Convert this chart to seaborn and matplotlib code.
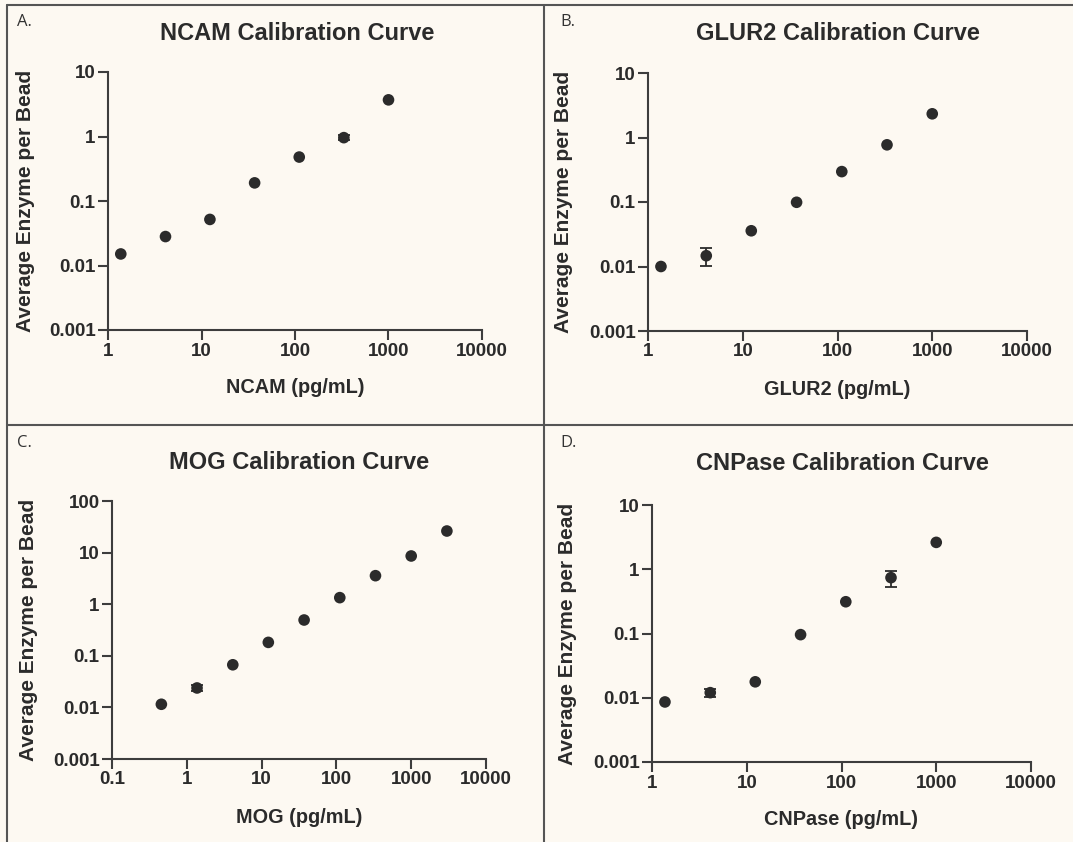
import matplotlib
matplotlib.use("Agg")
import matplotlib.pyplot as plt
from matplotlib.lines import Line2D
from matplotlib.ticker import FixedLocator, FixedFormatter, NullLocator
import numpy as np
import pandas as pd
import seaborn as sns

# Standard dilution series (pg/mL)
ncam_conc = [1.37, 4.12, 12.3, 37.0, 111.0, 333.0, 1000.0]
ncam_signal = [0.0151, 0.0281, 0.0518, 0.191, 0.48, 0.96, 3.7]
ncam_err = [0.0, 0.0, 0.0, 0.0, 0.0, 0.08, 0.0]

glur2_conc = [1.37, 4.12, 12.3, 37.0, 111.0, 333.0, 1000.0]
glur2_signal = [0.0100, 0.0147, 0.0358, 0.099, 0.296, 0.77, 2.33]
glur2_err = [0.0, 0.0045, 0.0, 0.0, 0.0, 0.0, 0.0]

mog_conc = [0.457, 1.37, 4.12, 12.3, 37.0, 111.0, 333.0, 1000.0, 3000.0]
mog_signal = [0.0115, 0.0238, 0.067, 0.182, 0.494, 1.34, 3.57, 8.6, 26.2]
mog_err = [0.0, 0.003, 0.0, 0.0, 0.0, 0.0, 0.0, 0.0, 0.0]

cnpase_conc = [1.37, 4.12, 12.3, 37.0, 111.0, 333.0, 1000.0]
cnpase_signal = [0.0086, 0.0120, 0.0177, 0.096, 0.312, 0.74, 2.62]
cnpase_err = [0.0, 0.0016, 0.0, 0.0, 0.0, 0.21, 0.0]

panel_letters = ["A.", "B.", "C.", "D."]
analytes = ["NCAM", "GLUR2", "MOG", "CNPase"]
ylabel_text = "Average Enzyme per Bead"

x_ticks_std = [1, 10, 100, 1000, 10000]
x_labels_std = ["1", "10", "100", "1000", "10000"]
x_ticks_mog = [0.1, 1, 10, 100, 1000, 10000]
x_labels_mog = ["0.1", "1", "10", "100", "1000", "10000"]
y_ticks_std = [0.001, 0.01, 0.1, 1, 10]
y_labels_std = ["0.001", "0.01", "0.1", "1", "10"]
y_ticks_mog = [0.001, 0.01, 0.1, 1, 10, 100]
y_labels_mog = ["0.001", "0.01", "0.1", "1", "10", "100"]

BG = "#fdf9f2"
INK = "#2b2b2b"
AXC = "#3d3d3d"
FRAME = "#555555"

sns.set_style("ticks")
plt.rcParams["font.family"] = ["Liberation Sans", "DejaVu Sans"]

W, H = 1073, 842
fig = plt.figure(figsize=(W / 100, H / 100), dpi=100, facecolor=BG)


def px_rect(left, top, right, bottom):
    return [left / W, 1 - bottom / H, (right - left) / W, (bottom - top) / H]


panels = [
    dict(rect=px_rect(108, 72, 482, 330), conc=ncam_conc, sig=ncam_signal, err=ncam_err,
         xt=x_ticks_std, xl=x_labels_std, yt=y_ticks_std, yl=y_labels_std,
         title_xy=(297, 33), letter_xy=(17, 22), ylab_x=-0.195, xlab_y=-0.186),
    dict(rect=px_rect(648, 73, 1027, 331), conc=glur2_conc, sig=glur2_signal, err=glur2_err,
         xt=x_ticks_std, xl=x_labels_std, yt=y_ticks_std, yl=y_labels_std,
         title_xy=(838, 33), letter_xy=(560, 22), ylab_x=-0.198, xlab_y=-0.19),
    dict(rect=px_rect(112, 501, 486, 759), conc=mog_conc, sig=mog_signal, err=mog_err,
         xt=x_ticks_mog, xl=x_labels_mog, yt=y_ticks_mog, yl=y_labels_mog,
         title_xy=(299, 462), letter_xy=(17, 443), ylab_x=-0.198, xlab_y=-0.19),
    dict(rect=px_rect(652, 505, 1031, 762), conc=cnpase_conc, sig=cnpase_signal, err=cnpase_err,
         xt=x_ticks_std, xl=x_labels_std, yt=y_ticks_std, yl=y_labels_std,
         title_xy=(842, 463), letter_xy=(560, 443), ylab_x=-0.198, xlab_y=-0.187),
]

for p, letter, name in zip(panels, panel_letters, analytes):
    ax = fig.add_axes(p["rect"])
    ax.set_facecolor(BG)
    df = pd.DataFrame({"conc": p["conc"], "signal": p["sig"], "err": p["err"]})
    ax.set_xscale("log")
    ax.set_yscale("log")
    has_err = df[df["err"] > 0]
    if len(has_err):
        ax.errorbar(has_err["conc"], has_err["signal"], yerr=has_err["err"],
                    fmt="none", ecolor=INK, elinewidth=1.3, capsize=4, capthick=1.3, zorder=2)
    sns.scatterplot(data=df, x="conc", y="signal", ax=ax, color=INK, s=70,
                    edgecolor="none", zorder=3, legend=False)
    ax.set_xlim(p["xt"][0], p["xt"][-1])
    ax.set_ylim(p["yt"][0], p["yt"][-1])
    ax.xaxis.set_major_locator(FixedLocator(p["xt"]))
    ax.xaxis.set_major_formatter(FixedFormatter(p["xl"]))
    ax.yaxis.set_major_locator(FixedLocator(p["yt"]))
    ax.yaxis.set_major_formatter(FixedFormatter(p["yl"]))
    ax.xaxis.set_minor_locator(NullLocator())
    ax.yaxis.set_minor_locator(NullLocator())
    sns.despine(ax=ax)
    for side in ("left", "bottom"):
        ax.spines[side].set_color(AXC)
        ax.spines[side].set_linewidth(1.5)
    ax.tick_params(axis="both", which="major", length=7, width=1.5, color=AXC,
                   labelsize=13.5, labelcolor=INK, pad=2)
    for lab in ax.get_xticklabels() + ax.get_yticklabels():
        lab.set_fontweight("bold")
    ax.set_xlabel(f"{name} (pg/mL)", fontsize=14.3, fontweight="bold", color=INK)
    ax.set_ylabel(ylabel_text, fontsize=15, fontweight="bold", color=INK)
    ax.xaxis.set_label_coords(0.5, p["xlab_y"])
    ax.yaxis.set_label_coords(p["ylab_x"], 0.5)
    tx, ty = p["title_xy"]
    fig.text(tx / W, 1 - ty / H, f"{name} Calibration Curve", ha="center", va="center",
             fontsize=17, fontweight="bold", color=INK)
    lx, ly = p["letter_xy"]
    fig.text(lx / W, 1 - ly / H, letter, ha="left", va="center",
             fontsize=12, color="#333333", family=["Open Sans", "DejaVu Sans"])

# Panel frame lines
frame_lines = [
    ((7, 7), (5, H)),        # left edge
    ((7, W), (5, 5)),        # top edge
    ((544, 544), (5, H)),    # middle vertical
    ((7, W), (425, 425)),    # middle horizontal
]
for xs, ys in frame_lines:
    fig.add_artist(Line2D([x / W for x in xs], [1 - y / H for y in ys],
                          color=FRAME, linewidth=1.5, transform=fig.transFigure))

fig.savefig("out.png", dpi=100, facecolor=BG)
